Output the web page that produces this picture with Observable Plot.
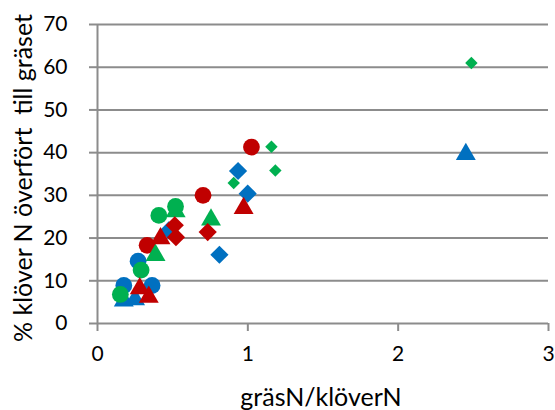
<!DOCTYPE html>
<html>
<head>
<meta charset="utf-8">
<script src="https://cdn.jsdelivr.net/npm/d3@7"></script>
<script src="https://cdn.jsdelivr.net/npm/@observablehq/plot@0.6"></script>
<style>
  html, body { margin: 0; padding: 0; background: #fff; }
</style>
</head>
<body>
<div id="chart"></div>
<script>
// Data: [gräsN/klöverN, % klöver N överfört till gräset]
const blueCircles    = [[0.27, 14.6], [0.175, 8.9], [0.363, 8.9]];
const blueDiamonds   = [[0.935, 35.7], [0.999, 30.4], [0.811, 16.1], [0.474, 21.8]];
const blueTriangles  = [[2.45, 39.6], [0.175, 5.3], [0.25, 5.6]];
const redCircles     = [[1.024, 41.3], [0.702, 30.0], [0.33, 18.3]];
const greenTriangles = [[0.755, 24.3], [0.386, 16.0], [0.52, 26.2]];
const greenCircles   = [[0.519, 27.4], [0.408, 25.3], [0.29, 12.5], [0.152, 6.8]];
const redDiamonds    = [[0.733, 21.4], [0.514, 23.0], [0.522, 20.2]];
const redTriangles   = [[0.972, 27.0], [0.419, 19.9], [0.281, 8.2], [0.341, 6.2]];
const greenDiamonds  = [[2.487, 61.0], [1.157, 41.4], [1.183, 35.8], [0.906, 32.9]];

const xTicks = [0, 1, 2, 3];
const yTicks = [0, 10, 20, 30, 40, 50, 60, 70];
const xTitle = "gräsN/klöverN";
const yTitle = "% klöver N överfört  till gräset";

const BLUE = "#0070C0", RED = "#C00000", GREEN = "#00B050";
const GRID = "#8c8c8c";

const series = [
  [blueCircles, BLUE, "circle", 8.4],
  [blueDiamonds, BLUE, "diamond2", 8.2],
  [blueTriangles, BLUE, "triangle", 7.4],
  [redCircles, RED, "circle", 8.4],
  [greenTriangles, GREEN, "triangle", 7.4],
  [greenCircles, GREEN, "circle", 8.4],
  [redDiamonds, RED, "diamond2", 8.2],
  [redTriangles, RED, "triangle", 7.4],
  [greenDiamonds, GREEN, "diamond2", 5.6]
];

const FONT = "Lato";

const chart = Plot.plot({
  width: 555,
  height: 410,
  marginLeft: 97,
  marginRight: 7,
  marginTop: 24,
  marginBottom: 87,
  style: { fontFamily: FONT, fontSize: "21px", background: "#fff", color: "#000", overflow: "visible" },
  x: { domain: [0, 3], label: null },
  y: { domain: [0, 70], label: null },
  marks: [
    Plot.gridY(yTicks, { stroke: GRID, strokeOpacity: 1, strokeWidth: 2 }),
    Plot.ruleX([0], { stroke: GRID, strokeWidth: 2 }),
    Plot.axisY(yTicks, { tickSize: 8, tickPadding: 22, stroke: GRID, strokeWidth: 2, fill: "#000", fontSize: 21, label: null, tickFormat: d => d }),
    Plot.axisX(xTicks, { tickSize: 8, tickPadding: 15, stroke: GRID, strokeWidth: 2, fill: "#000", fontSize: 21, label: null, tickFormat: d => d }),
    ...series.map(([data, color, symbol, r]) =>
      Plot.dot(data, { x: d => d[0], y: d => d[1], fill: color, stroke: "none", symbol, r })
    ),
    Plot.text([yTitle], { frameAnchor: "left", dx: -74, dy: 4, rotate: -90, text: d => d, fontSize: 25, fill: "#000", textAnchor: "middle", lineAnchor: "middle" }),
    Plot.text([xTitle], { frameAnchor: "bottom", dx: -2, dy: 74, text: d => d, fontSize: 25, fill: "#000", textAnchor: "middle", lineAnchor: "middle" })
  ]
});

document.getElementById("chart").appendChild(chart);
</script>
</body>
</html>
